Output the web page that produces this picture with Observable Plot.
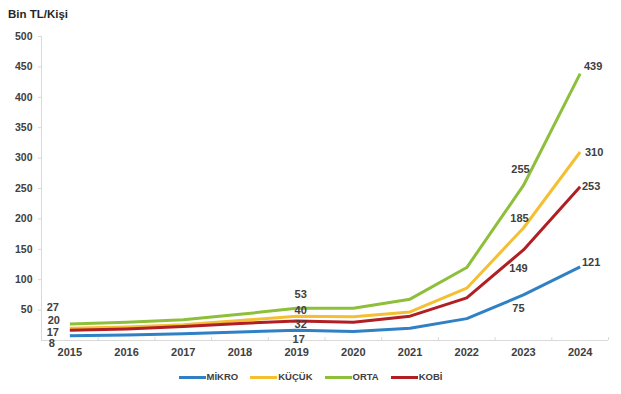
<!DOCTYPE html>
<html><head><meta charset="utf-8">
<script src="https://cdn.jsdelivr.net/npm/d3@7"></script>
<script src="https://cdn.jsdelivr.net/npm/@observablehq/plot@0.6"></script>
<style>
body{margin:0;background:#fff;font-family:"Liberation Sans",Arial,sans-serif;}
#wrap{position:relative;width:621px;height:394px;overflow:hidden;}
#chart{position:absolute;left:0;top:0;}
#title{position:absolute;left:8px;top:8px;font-weight:bold;font-size:11.5px;line-height:13px;color:#262626;}
#legend{position:absolute;top:371px;left:0;width:621px;display:flex;justify-content:center;align-items:center;font-size:9.5px;font-weight:bold;color:#404040;line-height:12px;}
.item{display:flex;align-items:center;margin:0 6px;}
.sw{width:27px;height:3px;margin-right:1px;}
</style>
</head><body>
<div id="wrap">
  <div id="chart"></div>
  <div id="title">Bin TL/Kişi</div>
  <div id="legend"></div>
</div>
<script>
const years = [2015, 2016, 2017, 2018, 2019, 2020, 2021, 2022, 2023, 2024];
const series = ["MİKRO", "KÜÇÜK", "ORTA", "KOBİ"];
const mikro = [8, 9, 11, 14, 17, 15, 20, 36, 75, 121];
const kucuk = [20, 22, 26, 33, 40, 39, 47, 86, 185, 310];
const orta  = [27, 30, 34, 43, 53, 53, 68, 120, 255, 439];
const kobi  = [17, 19, 23, 28, 32, 30, 40, 70, 149, 253];
const yTicks = [50, 100, 150, 200, 250, 300, 350, 400, 450, 500];
const labelYears = [2015, 2019, 2023, 2024];
const colors = ["#2f80c4", "#f4c033", "#8dbf3a", "#b01f24"];

const values = [mikro, kucuk, orta, kobi];
const rows = series.flatMap((s, j) => years.map((y, i) => ({series: s, year: y, value: values[j][i]})));

// label offsets (pixels) per series and year
const offsets = {
  "MİKRO": {2015: [-18, 8], 2019: [2, 9], 2023: [-5, 14], 2024: [11, -4]},
  "KÜÇÜK": {2015: [-16, -8], 2019: [4, -6], 2023: [-4, -10], 2024: [14, 0]},
  "ORTA":  {2015: [-17, -17], 2019: [4, -14], 2023: [-3, -16], 2024: [13, -7]},
  "KOBİ":  {2015: [-17, 2], 2019: [4, 3], 2023: [-5, 19], 2024: [11, 0]}
};

const xMin = d3.min(years) - 0.5, xMax = d3.max(years) + 0.5;
const boundaries = years.map(y => y + 0.5);
const textColor = "#404040", axisColor = "#d9d9d9";

const labelMarks = rows.filter(r => labelYears.includes(r.year)).map(r => {
  const [dx, dy] = offsets[r.series][r.year];
  return Plot.text([r], {x: "year", y: "value", text: d => String(d.value), dx, dy,
    fill: textColor, fontWeight: "bold", fontSize: 11});
});

const chart = Plot.plot({
  width: 621, height: 360,
  marginTop: 36, marginBottom: 20, marginLeft: 41, marginRight: 13,
  style: {fontFamily: "'Liberation Sans', Arial, sans-serif", background: "transparent"},
  x: {domain: [xMin, xMax]},
  y: {domain: [0, 500]},
  color: {domain: series, range: colors},
  marks: [
    Plot.ruleX([xMin], {y1: 0, y2: d3.max(yTicks), stroke: axisColor}),
    Plot.ruleY([0], {x1: xMin, x2: xMax, stroke: axisColor}),
    Plot.ruleX(boundaries, {x: d => d, y1: 0, y2: 0, insetBottom: 3, stroke: axisColor}),
    Plot.axisY({ticks: yTicks, tickSize: 3, tickPadding: 6, stroke: axisColor, fill: textColor,
      fontWeight: "bold", fontSize: 10.5, label: null}),
    Plot.axisX({ticks: years, tickSize: 0, tickPadding: 8, tickFormat: d => String(d), fill: textColor,
      fontWeight: "bold", fontSize: 11, label: null}),
    Plot.line(rows, {x: "year", y: "value", z: "series", stroke: "series", strokeWidth: 3,
      strokeLinejoin: "round", strokeLinecap: "butt"}),
    ...labelMarks
  ]
});
document.getElementById("chart").appendChild(chart);

const legend = document.getElementById("legend");
series.forEach((s, i) => {
  const it = document.createElement("div");
  it.className = "item";
  const sw = document.createElement("div");
  sw.className = "sw";
  sw.style.background = colors[i];
  const tx = document.createElement("span");
  tx.textContent = s;
  it.appendChild(sw); it.appendChild(tx);
  legend.appendChild(it);
});
</script>
</body></html>
